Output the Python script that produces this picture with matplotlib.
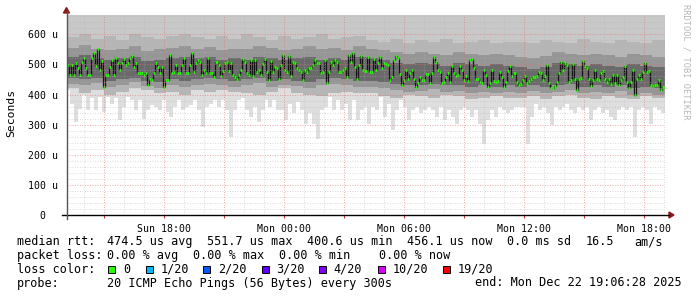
import numpy as np
import matplotlib
matplotlib.use("Agg")
import matplotlib.pyplot as plt
from matplotlib.lines import Line2D
from matplotlib.patches import Rectangle, Polygon

W, H = 697, 297

# median rtt (us), one value per 5 min step
median = [498, 464, 498, 464, 503, 487, 464, 509, 522, 487, 464, 464, 522, 537, 494, 550, 483, 511, 426, 464,
          464, 492, 514, 464, 520, 506, 481, 503, 517, 498, 503, 522, 528, 492, 506, 470, 470, 470, 464, 472,
          431, 453, 448, 470, 506, 492, 470, 492, 426, 448, 448, 531, 470, 475, 498, 472, 472, 498, 520, 470,
          472, 498, 537, 475, 503, 514, 509, 464, 481, 470, 522, 470,
          470, 459, 509, 498, 461, 478, 503, 509, 478, 503, 464, 459, 453, 464, 481, 517, 509, 470, 464, 514,
          461, 514, 476, 481, 464, 501, 517, 476, 448, 512, 476, 492, 487, 453, 498, 531, 481, 476, 528, 461,
          509, 503, 487, 483, 476, 448, 481, 476, 487, 487, 498, 514, 506, 506, 470, 476, 514, 439, 476, 509,
          498, 514, 509, 476, 476, 483, 487, 459, 531, 509, 537, 492, 453, 498,
          528, 481, 478, 526, 476, 476, 517, 483, 503, 526, 487, 503, 500, 498, 448, 459, 514, 528, 520, 467,
          431, 448, 481, 453, 472, 483, 453, 426, 439, 459, 448, 448, 467, 467, 437, 470, 526, 509, 483, 476,
          437, 442, 459, 470, 442, 494, 470, 461, 464, 494, 481, 448, 461, 444, 514, 517, 487, 453, 453, 442,
          439, 481, 464, 426, 439, 481, 444, 442, 444, 476, 459, 426, 442, 478, 494,
          461, 470, 442, 431, 434, 448, 461, 439, 444, 453, 459, 459, 461, 476, 470, 448, 461, 498, 439, 420,
          420, 428, 442, 470, 509, 481, 506, 498, 442, 448, 501, 453, 415, 453, 456, 512, 494, 487, 453, 428,
          448, 483, 453, 448, 470, 478, 453, 442, 453, 434, 464, 437, 464, 431, 448, 459, 494, 442, 420, 442,
          481, 400, 450, 464, 450, 476, 503, 476, 478, 431, 428, 431, 431, 448, 415, 426]

# lowest ping (us), coarser steps
low_ping = [414, 370, 309, 353, 398, 348, 387, 348, 392, 342, 392, 370, 387, 314, 359, 392, 381, 348, 381, 320,
            348, 364, 359, 348, 381, 342, 325, 359, 381, 348, 359, 364, 381, 348, 292, 359, 370, 381,
            359, 381, 348, 259, 348, 381, 387, 348, 325, 359, 309, 348, 381, 359, 381, 348, 348, 314, 370, 337,
            376, 348, 303, 337, 303, 253, 348, 359, 392, 348, 381, 348, 370, 314, 381, 314, 348, 359,
            303, 359, 348, 392, 325, 370, 281, 348, 381, 359, 314, 348, 359, 337, 348, 359, 348, 325, 359, 314,
            348, 325, 303, 348, 359, 348, 325, 348, 303, 237, 314, 348, 325, 359, 348, 337, 348, 359,
            359, 359, 237, 325, 370, 348, 359, 337, 298, 359, 348, 359, 370, 348, 337, 359, 348, 359, 314, 348,
            359, 337, 348, 325, 314, 348, 359, 348, 359, 259, 348, 359, 348, 303, 359, 348, 337]

# smoke bands (us), ~hourly chunks
band_lo = [420, 405, 415, 400, 410, 420, 415, 405, 410, 400, 415, 410,
           415, 410, 405, 400, 410, 420, 405, 400, 395, 405, 410, 405,
           405, 395, 390, 400, 395, 390, 400, 395, 385, 390, 395, 390,
           390, 395, 385, 395, 400, 390, 385, 395, 390, 385, 395, 390]
mid_lo = [435, 430, 438, 425, 430, 440, 428, 420, 432, 425, 430, 436,
          430, 425, 432, 438, 425, 430, 428, 420, 430, 436, 432, 425,
          425, 420, 415, 410, 412, 418, 410, 412, 405, 410, 406, 410,
          405, 412, 406, 410, 415, 405, 410, 406, 412, 400, 405, 400]
core_lo = [455, 450, 455, 445, 450, 455, 445, 440, 450, 445, 450, 455,
           450, 445, 450, 455, 445, 450, 445, 440, 450, 455, 450, 445,
           445, 440, 435, 430, 430, 435, 430, 430, 425, 430, 425, 430,
           425, 430, 425, 430, 435, 425, 430, 425, 430, 420, 425, 420]
core_hi = [525, 530, 520, 515, 520, 525, 510, 515, 520, 525, 520, 525,
           515, 520, 515, 525, 520, 515, 520, 525, 515, 520, 515, 525,
           520, 515, 505, 500, 505, 500, 495, 505, 500, 495, 500, 495,
           490, 485, 490, 505, 500, 495, 500, 495, 490, 500, 495, 490]
mid_hi = [555, 565, 550, 548, 552, 560, 545, 550, 556, 560, 552, 558,
          548, 552, 550, 560, 555, 548, 552, 560, 550, 555, 548, 560,
          552, 548, 540, 535, 540, 535, 530, 540, 535, 530, 536, 530,
          525, 520, 528, 540, 535, 530, 536, 530, 525, 535, 530, 525]
band_hi = [590, 600, 585, 595, 580, 600, 590, 585, 595, 600, 590, 585,
           595, 585, 600, 590, 580, 595, 585, 590, 600, 585, 590, 595,
           580, 575, 585, 570, 580, 575, 585, 570, 575, 580, 570, 575,
           575, 570, 580, 575, 570, 585, 575, 570, 580, 575, 570, 580]

tick_hours = [0, 6, 12, 18, 24]
tick_labels = ["Sun 18:00", "Mon 00:00", "Mon 06:00", "Mon 12:00", "Mon 18:00"]
y_ticks = [0, 100, 200, 300, 400, 500, 600]
y_labels = ["0  ", "100 u", "200 u", "300 u", "400 u", "500 u", "600 u"]

loss_labels = ["0", "1/20", "2/20", "3/20", "4/20", "10/20", "19/20"]
loss_colors = ["#26ff00", "#00b8ff", "#0059ff", "#5e00ff", "#7e00ff", "#dd00ff", "#ff0000"]

t0, t1 = -4.875, 25.025
y_top = 664

MONO = "DejaVu Sans Mono"

fig = plt.figure(figsize=(W / 100, H / 100), dpi=100)
fig.patch.set_facecolor("white")
left, right, top, bottom = 66.5, 664.5, 15, 215
ax = fig.add_axes([left / W, 1 - bottom / H, (right - left) / W, (bottom - top) / H])
ax.set_xlim(t0, t1)
ax.set_ylim(0, y_top)
for s in ax.spines.values():
    s.set_visible(False)


def steps(vals):
    x = np.linspace(t0, t1, len(vals) + 1)
    y = np.append(vals, vals[-1])
    return x, y


# smoke
x, y = steps(low_ping)
ax.fill_between(x, y, y_top, step="post", color="#dedede", lw=0, zorder=1)
x, ylo = steps(band_lo)
_, yhi = steps(band_hi)
ax.fill_between(x, ylo, yhi, step="post", color="#b6b6b6", lw=0, zorder=2)
ax.fill_between(x, yhi, y_top, step="post", color="#c8c8c8", lw=0, zorder=2)
_, mlo = steps(mid_lo)
_, mhi = steps(mid_hi)
ax.fill_between(x, mlo, mhi, step="post", color="#969696", lw=0, zorder=2.5)
_, clo = steps(core_lo)
_, chi = steps(core_hi)
ax.fill_between(x, clo, chi, step="post", color="#6a6a6a", lw=0, zorder=3)

# median
x, y = steps(median)
ax.step(x, y, where="post", color="#151515", lw=0.9, zorder=4)
ax.hlines(median, x[:-1], x[1:], color=loss_colors[0], lw=1.9, zorder=5)

# grid on top
for yy in np.arange(20, y_top, 20):
    major = yy % 100 == 0
    ax.axhline(yy, color="#e07070" if major else "#b0b0b0", lw=0.6,
               ls=(0, (1, 2)), alpha=0.8 if major else 0.6, zorder=6)
for hh in np.arange(-4, 26, 1):
    major = hh % 3 == 0
    ax.axvline(hh, color="#e07070" if major else "#b0b0b0", lw=0.6,
               ls=(0, (1, 2)), alpha=0.8 if major else 0.6, zorder=6)

ax.set_xticks(np.arange(-3, 26, 3))
ax.set_xticklabels([tick_labels[tick_hours.index(h)] if h in tick_hours else "" for h in range(-3, 26, 3)],
                   family=MONO, fontsize=7.1)
ax.tick_params(axis="x", length=2.5, color="#c04040", pad=4)
ax.set_yticks(y_ticks)
ax.set_yticklabels(y_labels, family=MONO, fontsize=7.1)
ax.tick_params(axis="y", length=0, pad=6)


def fx(px):
    return px / W


def fy(py):
    return 1 - py / H


# axes lines and arrows
fig.add_artist(Line2D([fx(62), fx(669)], [fy(215), fy(215)], color="black", lw=1.0))
fig.add_artist(Line2D([fx(66.5), fx(66.5)], [fy(219), fy(11)], color="#555555", lw=1.0))
fig.add_artist(Polygon([[fx(669), fy(212)], [fx(674), fy(215)], [fx(669), fy(218)]],
                       closed=True, color="#8b1a1a", transform=fig.transFigure))
fig.add_artist(Polygon([[fx(63.5), fy(13)], [fx(66.5), fy(7.5)], [fx(69.5), fy(13)]],
                       closed=True, color="#8b1a1a", transform=fig.transFigure))

fig.text(fx(11), fy(113), "Seconds", rotation=90, ha="center", va="center", family=MONO, fontsize=8.2)
fig.text(fx(686), fy(4), "RRDTOOL / TOBI OETIKER", rotation=270, ha="center", va="top",
         family=MONO, fontsize=6.2, color="#b8b8b8")

FS = 8.5
rows = [
    (241.7, [(16.7, "median rtt:"), (107.3, "474.5 us avg"), (207.3, "551.7 us max"), (306.7, "400.6 us min"),
             (407, "456.1 us now"), (507, "0.0 ms sd"), (586, "16.5"), (634.3, "am/s")]),
    (255.5, [(16.7, "packet loss:"), (107.3, "0.00 % avg"), (193.3, "0.00 % max"), (279.3, "0.00 % min"),
             (378.7, "0.00 % now")]),
    (269.2, [(16.7, "loss color:")]),
    (283, [(16.7, "probe:"), (107.3, "20 ICMP Echo Pings (56 Bytes) every 300s"),
           (475.3, "end: Mon Dec 22 19:06:28 2025")]),
]
for yy, parts in rows:
    for xx, s in parts:
        fig.text(fx(xx), fy(yy), s, ha="left", va="center", family=MONO, fontsize=FS)

box_x = [108.3, 145.7, 203.3, 261.7, 319.3, 377.7, 443]
for bx, lab, col in zip(box_x, loss_labels, loss_colors):
    fig.add_artist(Rectangle((fx(bx), fy(273)), 7 / W, 7.5 / H, transform=fig.transFigure,
                             facecolor=col, edgecolor="black", lw=0.7))
    fig.text(fx(bx + 14.5), fy(269.2), lab, ha="left", va="center", family=MONO, fontsize=FS)

fig.savefig("out.png", dpi=100)
